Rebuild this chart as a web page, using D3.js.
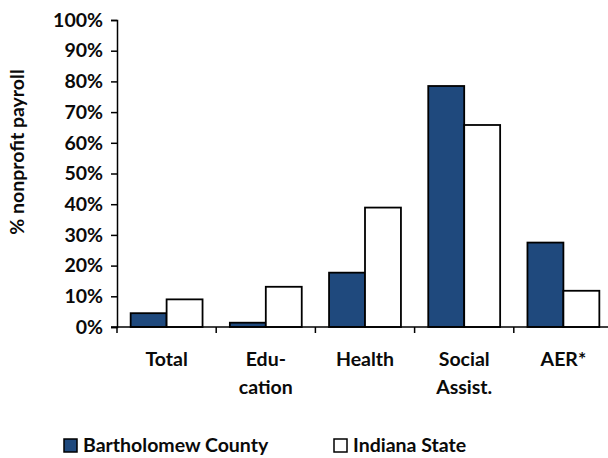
<!DOCTYPE html>
<html>
<head>
<meta charset="utf-8">
<script src="https://cdn.jsdelivr.net/npm/d3@7"></script>
<style>
  body { margin: 0; background: #fff; }
  svg { display: block; font-family: Lato, "Open Sans", sans-serif; font-weight: bold; }
</style>
</head>
<body>
<svg id="chart" width="608" height="458"></svg>
<script>
// data
const categories = ["Total", "Edu-\ncation", "Health", "Social\nAssist.", "AER*"];
const seriesNames = ["Bartholomew County", "Indiana State"];
const bartholomew = [4.5, 1.4, 17.7, 78.5, 27.5];
const indiana = [9.0, 13.1, 38.9, 65.8, 11.8];
const yTicks = [0, 10, 20, 30, 40, 50, 60, 70, 80, 90, 100];

const colors = ["#1F497D", "#ffffff"];
const fontSize = "19.5px";

const svg = d3.select("#chart");

// plot area (right end runs off the image, like the original)
const plotLeft = 117, plotRight = 613, plotTop = 20, plotBottom = 327;

const x = d3.scaleBand().domain(categories).range([plotLeft, plotRight]).paddingInner(0).paddingOuter(0);
const xSub = d3.scaleBand().domain(seriesNames).range([0, x.bandwidth()]).paddingInner(0).paddingOuter(0.38);
const y = d3.scaleLinear().domain([0, 100]).range([plotBottom, plotTop]);

const rows = categories.map((c, i) => ({ cat: c, values: [bartholomew[i], indiana[i]] }));

// bars
const groups = svg.selectAll("g.cat")
  .data(rows)
  .enter()
  .append("g")
  .attr("class", "cat")
  .attr("transform", d => "translate(" + x(d.cat) + ",0)");

groups.selectAll("rect")
  .data(d => d.values.map((v, j) => ({ name: seriesNames[j], v: v, j: j })))
  .enter()
  .append("rect")
  .attr("x", d => xSub(d.name))
  .attr("width", xSub.bandwidth())
  .attr("y", d => y(d.v))
  .attr("height", d => plotBottom - y(d.v))
  .attr("fill", d => colors[d.j])
  .attr("stroke", "#000")
  .attr("stroke-width", 1.8);

// y axis
const yAxis = svg.append("g")
  .attr("transform", "translate(" + plotLeft + ",0)")
  .call(d3.axisLeft(y).tickValues(yTicks).tickFormat(d => d + "%").tickSize(6).tickPadding(8));
yAxis.select(".domain").attr("stroke", "#000").attr("stroke-width", 1.5);
yAxis.selectAll(".tick line").attr("stroke", "#000").attr("stroke-width", 1.5);
yAxis.selectAll(".tick text")
  .attr("fill", "#0a0a0a")
  .style("font-size", fontSize)
  .style("font-family", "Lato, sans-serif")
  .style("font-weight", "bold");

// x axis line and boundary ticks
const xAxis = svg.append("g");
xAxis.append("line")
  .attr("x1", plotLeft - 6).attr("x2", plotRight)
  .attr("y1", plotBottom).attr("y2", plotBottom)
  .attr("stroke", "#000").attr("stroke-width", 1.5);
xAxis.selectAll("line.xt")
  .data(categories.map(c => x(c)).concat([plotRight]))
  .enter()
  .append("line")
  .attr("class", "xt")
  .attr("x1", d => d).attr("x2", d => d)
  .attr("y1", plotBottom).attr("y2", plotBottom + 6)
  .attr("stroke", "#000").attr("stroke-width", 1.5);

// category labels
const labels = xAxis.selectAll("text.cat")
  .data(categories)
  .enter()
  .append("text")
  .attr("class", "cat")
  .attr("text-anchor", "middle")
  .attr("fill", "#0a0a0a")
  .style("font-size", fontSize)
  .attr("transform", d => "translate(" + (x(d) + x.bandwidth() / 2) + "," + 366 + ")");
labels.each(function (d) {
  const t = d3.select(this);
  d.split("\n").forEach((part, k) => {
    t.append("tspan").attr("x", 0).attr("y", k * 28).text(part);
  });
});

// y axis title
svg.append("text")
  .attr("transform", "translate(24,152) rotate(-90)")
  .attr("text-anchor", "middle")
  .attr("fill", "#0a0a0a")
  .style("font-size", fontSize)
  .text("% nonprofit payroll");

// legend
const legendX = [64, 334];
const legend = svg.selectAll("g.legend")
  .data(seriesNames)
  .enter()
  .append("g")
  .attr("class", "legend")
  .attr("transform", (d, i) => "translate(" + legendX[i] + ",439)");
legend.append("rect")
  .attr("width", 13).attr("height", 13)
  .attr("fill", (d, i) => colors[i])
  .attr("stroke", "#000").attr("stroke-width", 1.5);
legend.append("text")
  .attr("x", 19).attr("y", 13)
  .attr("fill", "#0a0a0a")
  .style("font-size", fontSize)
  .text(d => d);
</script>
</body>
</html>
